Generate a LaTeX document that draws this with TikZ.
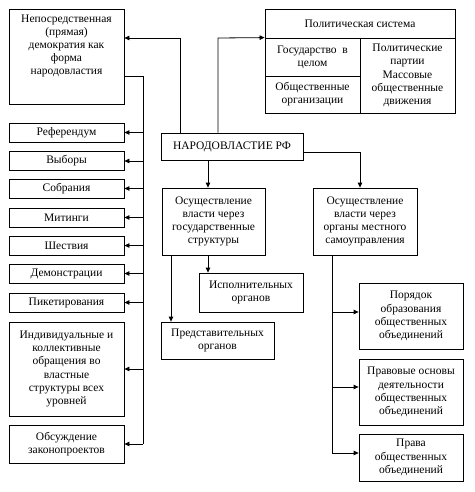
\documentclass[tikz,border=0pt]{standalone}
\usepackage{fontspec}
\setmainfont{Liberation Serif}
\usetikzlibrary{arrows.meta}
\begin{document}
\begin{tikzpicture}[x=1pt,y=-1pt,
  box/.style={draw, line width=0.8pt, inner sep=1pt, align=center, font=\fontsize{11.5}{13.2}\selectfont},
  txt/.style={inner sep=0pt, align=center, font=\fontsize{11.5}{13.2}\selectfont},
  ln/.style={line width=0.8pt},
  arr/.style={line width=0.8pt, -{Triangle[length=5pt,width=4.5pt]}}]
\useasboundingbox (0,0) rectangle (474,492);
% left column
\node[box, minimum width=115pt, minimum height=95pt] (b1) at (66.5,56.5) {};
\node[txt] (b1t) at (66.5,46) {Непосредственная\\(прямая)\\демократия как\\форма\\народовластия};
\node[box, minimum width=115pt, minimum height=19pt] (ref) at (66.5,132.5) {Референдум};
\node[box, minimum width=115pt, minimum height=19pt] (vyb) at (66.5,161) {Выборы};
\node[box, minimum width=115pt, minimum height=19pt] (sob) at (66.5,188.5) {Собрания};
\node[box, minimum width=115pt, minimum height=19pt] (mit) at (66.5,217.5) {Митинги};
\node[box, minimum width=115pt, minimum height=19pt] (shes) at (66.5,245.5) {Шествия};
\node[box, minimum width=115pt, minimum height=19pt] (dem) at (66.5,273.5) {Демонстрации};
\node[box, minimum width=115pt, minimum height=19pt] (pik) at (66.5,302.5) {Пикетирования};
\node[box, minimum width=115pt, minimum height=94pt] (ind) at (66.5,369) {Индивидуальные и\\коллективные\\обращения во\\властные\\структуры всех\\уровней};
\node[box, minimum width=115pt, minimum height=38pt] (obs) at (66.5,444) {Обсуждение\\законопроектов};
% political system
\node[box, minimum width=190pt, minimum height=29pt] (pst) at (360,23.5) {Политическая система};
\node[box, minimum width=95pt, minimum height=38pt] (gos) at (312.5,57) {Государство\ \ в\\целом};
\node[box, minimum width=95pt, minimum height=37pt] (obo) at (312.5,94.5) {Общественные\\организации};
\node[box, minimum width=95pt, minimum height=75pt] (part) at (407.5,75.5) {Политические\\партии\\Массовые\\общественные\\движения};
% center
\node[box, minimum width=142pt, minimum height=27pt] (narod) at (232,146.5) {НАРОДОВЛАСТИЕ РФ};
\node[box, minimum width=103pt, minimum height=67pt] (gov) at (213.5,221.5) {Осуществление\\власти через\\государственные\\структуры};
\node[box, minimum width=104pt, minimum height=67pt] (loc) at (365,221.5) {Осуществление\\власти через\\органы местного\\самоуправления};
\node[box, minimum width=104pt, minimum height=39pt] (exec) at (251,292.5) {Исполнительных\\органов};
\node[box, minimum width=113pt, minimum height=37pt] (repr) at (217.5,340.5) {Представительных\\органов};
% right column
\node[box, minimum width=104pt, minimum height=66pt] (por) at (411,316) {Порядок\\образования\\общественных\\объединений};
\node[box, minimum width=104pt, minimum height=66pt] (prav) at (411,392) {Правовые основы\\деятельности\\общественных\\объединений};
\node[box, minimum width=104pt, minimum height=47pt] (prava) at (411,457.5) {Права\\общественных\\объединений};
% junction coordinates
\coordinate (j1) at (180,38);
\coordinate (j2) at (218,38);
\coordinate (bt) at (143,76);
\coordinate (bb) at (143,444);
\coordinate (j3) at (360,152);
\coordinate (lb) at (332,453);
% connectors top
\draw[arr] (narod.north -| j1) -- (j1) -- (b1.east |- j1);
\draw[arr] (narod.north -| j2) -- (j2) -- (gos.north west);
% left bus
\draw[ln] (b1.east |- bt) -- (bt) -- (bb);
\foreach \n in {ref,vyb,sob,mit,shes,dem,pik,ind,obs}
  \draw[arr] (bt |- \n.east) -- (\n.east);
% center
\draw[arr] (narod.east |- j3) -- (j3) -- (loc.north -| j3);
\draw[arr] (narod.south -| 208,0) -- (gov.north -| 208,0);
\draw[arr] (gov.south -| 208,0) -- (exec.north -| 208,0);
\draw[arr] (gov.south -| 171,0) -- (repr.north -| 171,0);
% right bus
\draw[ln] (loc.south -| lb) -- (lb);
\draw[arr] (332,312) -- (por.west |- 0,312);
\draw[arr] (332,387) -- (prav.west |- 0,387);
\draw[arr] (lb) -- (prava.west |- lb);
\end{tikzpicture}
\end{document}
